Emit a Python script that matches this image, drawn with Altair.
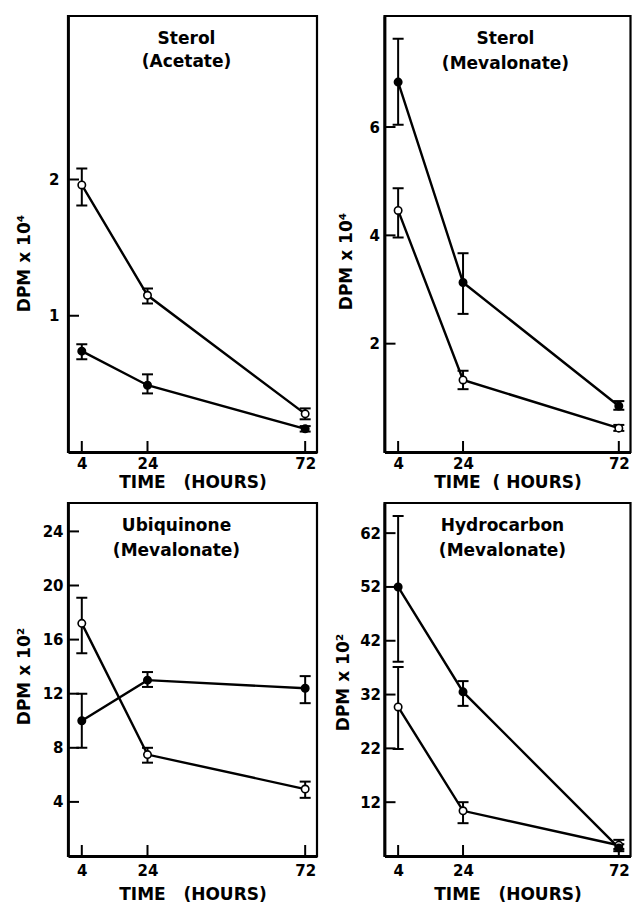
import altair as alt
import pandas as pd

# ---------------- data ----------------
times = [4, 24, 72]
x_ticks = [4, 24, 72]

panel_titles = [
    ["Sterol", "(Acetate)"],
    ["Sterol", "(Mevalonate)"],
    ["Ubiquinone", "(Mevalonate)"],
    ["Hydrocarbon", "(Mevalonate)"],
]

# Panel 1: Sterol (Acetate), DPM x 10^4
p1_open_mean = [1.96, 1.15, 0.28]
p1_open_hi = [2.08, 1.20, 0.32]
p1_open_lo = [1.81, 1.09, 0.24]
p1_fill_mean = [0.74, 0.49, 0.17]
p1_fill_hi = [0.79, 0.57, 0.19]
p1_fill_lo = [0.68, 0.43, 0.15]
p1_yticks = [1, 2]

# Panel 2: Sterol (Mevalonate), DPM x 10^4
p2_open_mean = [4.46, 1.33, 0.44]
p2_open_hi = [4.87, 1.50, 0.50]
p2_open_lo = [3.96, 1.16, 0.39]
p2_fill_mean = [6.83, 3.13, 0.85]
p2_fill_hi = [7.63, 3.67, 0.94]
p2_fill_lo = [6.04, 2.55, 0.78]
p2_yticks = [2, 4, 6]

# Panel 3: Ubiquinone (Mevalonate), DPM x 10^2
p3_open_mean = [17.2, 7.5, 4.95]
p3_open_hi = [19.1, 8.0, 5.5]
p3_open_lo = [15.0, 6.9, 4.3]
p3_fill_mean = [10.0, 13.0, 12.4]
p3_fill_hi = [12.0, 13.6, 13.3]
p3_fill_lo = [8.0, 12.5, 11.3]
p3_yticks = [4, 8, 12, 16, 20, 24]

# Panel 4: Hydrocarbon (Mevalonate), DPM x 10^2
p4_open_mean = [29.7, 10.4, 4.0]
p4_open_hi = [37.1, 12.0, 5.0]
p4_open_lo = [21.9, 8.1, 3.3]
p4_fill_mean = [52.0, 32.5, 3.5]
p4_fill_hi = [65.2, 34.5, 4.2]
p4_fill_lo = [38.1, 29.9, 2.9]
p4_yticks = [12, 22, 32, 42, 52, 62]

FONT = "DejaVu Sans"
X_DOMAIN = [-0.2, 75.6]
NB = "\u00a0"


def make_df(om, ohi, olo, fm, fhi, flo):
    rows = []
    for t, m, h, l in zip(times, om, ohi, olo):
        rows.append({"time": t, "group": "open", "mean": m, "hi": h, "lo": l})
    for t, m, h, l in zip(times, fm, fhi, flo):
        rows.append({"time": t, "group": "filled", "mean": m, "hi": h, "lo": l})
    return pd.DataFrame(rows)


def panel(df, yticks, ydomain, title_lines, title_dx, title_lh, xtitle, ytitle,
          ytitle_x, ytitle_y, ylabel_pad, xlabel_pad, xtitle_pad, width, height):
    xscale = alt.Scale(domain=X_DOMAIN, nice=False, zero=False)
    yscale = alt.Scale(domain=ydomain, nice=False, zero=False)
    xaxis = alt.Axis(values=x_ticks, title=xtitle, ticks=False, tickSize=0,
                     labelPadding=xlabel_pad, titlePadding=xtitle_pad, grid=False,
                     labelFlush=False)
    yaxis = alt.Axis(values=yticks, title=ytitle, ticks=False, tickSize=0,
                     labelPadding=ylabel_pad, grid=False, titleX=ytitle_x,
                     titleY=ytitle_y, titleAngle=270, titleBaseline="middle",
                     titleAlign="center", labelFlush=False)

    def X(f):
        return alt.X(f, type="quantitative", scale=xscale, axis=xaxis)

    def Y(f):
        return alt.Y(f, type="quantitative", scale=yscale, axis=yaxis)

    base = alt.Chart(df)

    # inward axis ticks
    xt = alt.Chart(pd.DataFrame({"time": x_ticks})).mark_tick(
        orient="vertical", size=11, thickness=2, color="black", opacity=1).encode(
        x=X("time"), y=alt.value(height - 5.5))
    yt = alt.Chart(pd.DataFrame({"mean": yticks})).mark_tick(
        orient="horizontal", size=11, thickness=2, color="black", opacity=1).encode(
        y=Y("mean"), x=alt.value(5.5))

    bars = base.mark_rule(color="black", strokeWidth=2, opacity=1).encode(
        x=X("time"), y=Y("lo"), y2="hi:Q")
    caps = base.transform_fold(["lo", "hi"], as_=["k", "v"]).mark_tick(
        orient="horizontal", size=11, thickness=2, color="black",
        opacity=1).encode(x=X("time"), y=Y("v"))
    lines = base.mark_line(color="black", strokeWidth=2.4).encode(
        x=X("time"), y=Y("mean"), detail="group:N")
    pts = base.mark_point(filled=True, size=55, strokeWidth=1.6,
                          stroke="black", opacity=1).encode(
        x=X("time"), y=Y("mean"),
        fill=alt.Fill("group:N", scale=alt.Scale(domain=["filled", "open"],
                                                   range=["black", "white"]),
                      legend=None))

    ttl = alt.Chart(pd.DataFrame({"label": ["\n".join(title_lines)]})).mark_text(
        font=FONT, fontSize=17, fontWeight="bold", color="black",
        baseline="top", align="center", lineBreak="\n", lineHeight=title_lh).encode(
        text="label:N", x=alt.value(width / 2 + title_dx), y=alt.value(15))

    return alt.layer(xt, yt, bars, caps, lines, pts, ttl).properties(
        width=width, height=height)


W1, W2 = 249, 246
p1 = panel(make_df(p1_open_mean, p1_open_hi, p1_open_lo,
                   p1_fill_mean, p1_fill_hi, p1_fill_lo),
           p1_yticks, [0, 3.2], panel_titles[0], -6, 23,
           "TIME" + NB * 3 + "(HOURS)", "DPM x 10⁴", -44, 247, 9, 4, 3, W1, 436)
p2 = panel(make_df(p2_open_mean, p2_open_hi, p2_open_lo,
                   p2_fill_mean, p2_fill_hi, p2_fill_lo),
           p2_yticks, [0, 8.05], panel_titles[1], -2, 25,
           "TIME" + NB * 2 + "(" + NB + "HOURS)", "DPM x 10⁴", -38, 245, 5, 4, 3, W2, 436)
p3 = panel(make_df(p3_open_mean, p3_open_hi, p3_open_lo,
                   p3_fill_mean, p3_fill_hi, p3_fill_lo),
           p3_yticks, [0, 26.1], panel_titles[2], -16, 25,
           "TIME" + NB * 3 + "(HOURS)", "DPM x 10²", -44, 173, 5, 7, 8, W1, 353)
p4 = panel(make_df(p4_open_mean, p4_open_hi, p4_open_lo,
                   p4_fill_mean, p4_fill_hi, p4_fill_lo),
           p4_yticks, [2, 67.6], panel_titles[3], -5, 25,
           "TIME" + NB * 3 + "(HOURS)", "DPM x 10²", -41, 179, 4, 7, 8, W2, 353)

chart = alt.concat(p1, p2, p3, p4, columns=2,
                   spacing={"row": 9, "column": 13.5}).properties(
    padding={"left": 5, "top": 6, "right": 0, "bottom": 0},
    background="white",
).configure_view(stroke="black", strokeWidth=2.2).configure_axis(
    domain=True, domainColor="black", domainWidth=2.8,
    labelFont=FONT, labelFontSize=15, labelFontWeight="bold", labelColor="black",
    titleFont=FONT, titleFontSize=17, titleFontWeight="bold", titleColor="black",
)

chart.save("out.html", embed_options={"renderer": "svg", "actions": False})
